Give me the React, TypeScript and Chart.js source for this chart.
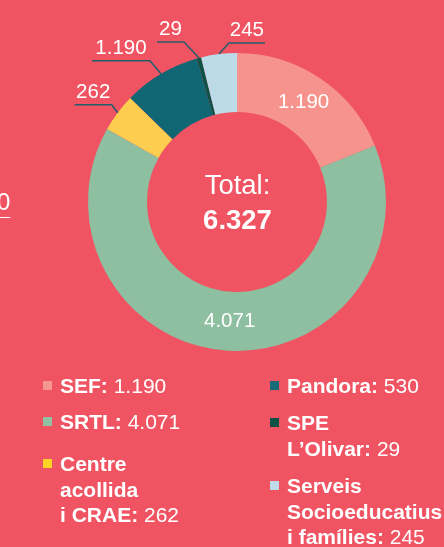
import React, { useEffect, useRef } from "react";
import { Chart, registerables } from "chart.js";

Chart.register(...registerables);

// ---- data ----
const categories = [
  "SEF",
  "SRTL",
  "Centre acollida i CRAE",
  "Pandora",
  "SPE L’Olivar",
  "Serveis Socioeducatius i famílies",
];
const values = [1190, 4071, 262, 530, 29, 245];
const sliceLabels = ["1.190", "4.071", "262", "1.190", "29", "245"];
const legendNames = [
  "SEF:",
  "SRTL:",
  "Centre\nacollida\ni CRAE:",
  "Pandora:",
  "SPE\nL’Olivar:",
  "Serveis\nSocioeducatius\ni famílies:",
];
const legendValues = ["1.190", "4.071", "262", "530", "29", "245"];
const totalLabel = "Total:";

// ---- styles ----
const BG = "#F05463";
const sliceColors = ["#F5938C", "#8DBFA0", "#FCCD4F", "#106673", "#0E5246", "#BDDAE8"];
const legendColors = ["#F5968F", "#8FC1A2", "#FFD324", "#176A78", "#0E5246", "#BFDCEA"];
const FONT = "'Liberation Sans', Arial, Helvetica, sans-serif";
// label layout: inside labels or leader line (elbow offset + horizontal run)
const labelLayout = [
  { inside: true },
  { inside: true },
  { dx: -6, dy: -8, run: -37 },
  { dx: -11, dy: -13, run: -58 },
  { dx: -15, dy: -16, run: -27 },
  { dx: 10, dy: -11, run: 36 },
];
const legendGaps = [0, 10.5, 16.5, 0, 11.5, 12];

function formatThousands(n: number): string {
  return String(n).replace(/\B(?=(\d{3})+(?!\d))/g, ".");
}

const labelPlugin = {
  id: "sliceLabels",
  afterDatasetsDraw(chart: any) {
    const ctx = chart.ctx;
    const meta = chart.getDatasetMeta(0);
    ctx.save();
    ctx.fillStyle = "#ffffff";
    ctx.font = `20.5px ${FONT}`;
    meta.data.forEach((arc: any, i: number) => {
      const lay: any = labelLayout[i];
      const props = arc.getProps(["x", "y", "startAngle", "endAngle", "innerRadius", "outerRadius"], true);
      const mid = (props.startAngle + props.endAngle) / 2;
      if (lay.inside) {
        const r = (props.innerRadius + props.outerRadius) / 2;
        const px = props.x + Math.cos(mid) * r;
        const py = props.y + Math.sin(mid) * r;
        ctx.textAlign = "center";
        ctx.textBaseline = "middle";
        ctx.fillText(sliceLabels[i], px, py);
      } else {
        const sx = props.x + Math.cos(mid) * props.outerRadius;
        const sy = props.y + Math.sin(mid) * props.outerRadius;
        const ex = sx + lay.dx;
        const ey = sy + lay.dy;
        const hx = ex + lay.run;
        ctx.strokeStyle = "#1F5F6B";
        ctx.lineWidth = 1.5;
        ctx.beginPath();
        ctx.moveTo(sx, sy);
        ctx.lineTo(ex, ey);
        ctx.lineTo(hx, ey);
        ctx.stroke();
        ctx.textAlign = "center";
        ctx.textBaseline = "alphabetic";
        ctx.fillText(sliceLabels[i], (ex + hx) / 2, ey - 7);
      }
    });
    // center text
    const first = meta.data[0];
    if (first) {
      const cx = first.x;
      const cy = first.y;
      ctx.textAlign = "center";
      ctx.textBaseline = "alphabetic";
      ctx.font = `27.5px ${FONT}`;
      ctx.fillText(totalLabel, cx + 0.5, cy - 8);
      ctx.font = `bold 27.5px ${FONT}`;
      const total = values.reduce((a, b) => a + b, 0);
      ctx.fillText(formatThousands(total), cx + 0.5, cy + 27);
    }
    ctx.restore();
  },
};

function DonutChart() {
  const canvasRef = useRef<HTMLCanvasElement | null>(null);
  useEffect(() => {
    if (!canvasRef.current) return;
    const chart = new Chart(canvasRef.current, {
      type: "doughnut",
      data: {
        labels: categories,
        datasets: [
          {
            data: values,
            backgroundColor: sliceColors,
            borderWidth: 0,
            hoverOffset: 0,
          },
        ],
      },
      options: {
        responsive: true,
        maintainAspectRatio: false,
        animation: false,
        cutout: "60.4%",
        layout: { padding: { left: 88, right: 58, top: 53, bottom: 196 } },
        plugins: {
          legend: { display: false },
          tooltip: { enabled: false },
        },
      },
      plugins: [labelPlugin],
    } as any);
    return () => chart.destroy();
  }, []);
  return <canvas ref={canvasRef} />;
}

function LegendItem({ i }: { i: number }) {
  return (
    <div style={{ display: "flex", alignItems: "flex-start", marginTop: legendGaps[i] }}>
      <div
        style={{
          width: 9,
          height: 9,
          marginTop: 8,
          marginRight: 8,
          background: legendColors[i],
          flex: "none",
        }}
      />
      <div style={{ whiteSpace: "pre", fontSize: 21, lineHeight: "25.5px" }}>
        <b>{legendNames[i]}</b> {legendValues[i]}
      </div>
    </div>
  );
}

export default function App() {
  return (
    <div
      style={{
        position: "fixed",
        left: 0,
        top: 0,
        width: 444,
        height: 547,
        background: BG,
        overflow: "hidden",
        fontFamily: FONT,
        color: "#ffffff",
      }}
    >
      <div style={{ position: "absolute", left: 0, top: 0, width: 444, height: 547 }}>
        <DonutChart />
      </div>
      <span
        style={{
          position: "absolute",
          left: -3,
          top: 188,
          fontSize: 24,
          lineHeight: "28px",
          textDecoration: "underline",
          textUnderlineOffset: "7px",
          textDecorationThickness: "1px",
        }}
      >
        0
      </span>
      <div style={{ position: "absolute", left: 43, top: 373 }}>
        {[0, 1, 2].map((i) => (
          <LegendItem key={i} i={i} />
        ))}
      </div>
      <div style={{ position: "absolute", left: 270, top: 373 }}>
        {[3, 4, 5].map((i) => (
          <LegendItem key={i} i={i} />
        ))}
      </div>
    </div>
  );
}
